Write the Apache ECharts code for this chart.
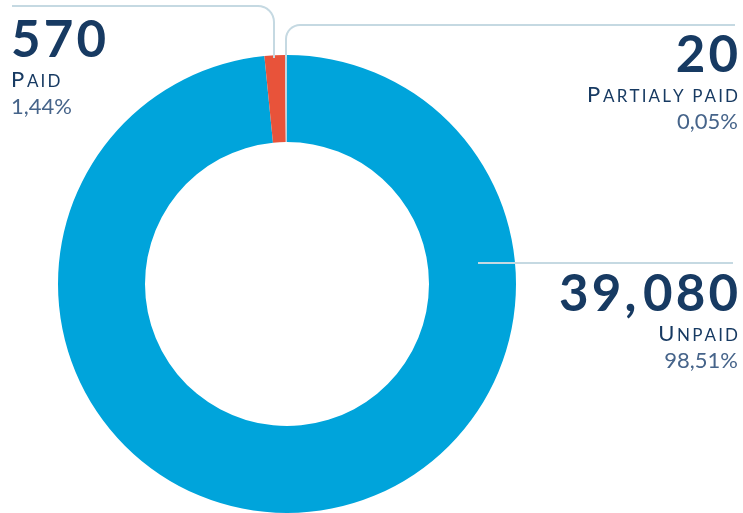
<!DOCTYPE html>
<html>
<head>
<meta charset="utf-8">
<script src="https://cdn.jsdelivr.net/npm/echarts@6/dist/echarts.min.js"></script>
<style>html,body{margin:0;padding:0;background:#fff;}#c{width:743px;height:513px;}</style>
</head>
<body>
<div id="c"></div>
<script>
var categories = ['Unpaid', 'Paid', 'Partialy paid'];
var values = [39080, 570, 20];
var colors = ['#00a4db', '#e8533a', '#bcd5e0'];

var total = values.reduce(function (a, b) { return a + b; }, 0);
function fmtNum(v) {
  var s = String(v).replace(/\B(?=(\d{3})+(?!\d))/g, ',');
  return s.split('').join('\u200a').replace(/,/g, ',\u200a');
}
function fmtPct(v) { return (v / total * 100).toFixed(2).replace('.', ',') + '%'; }
function smallCaps(s) {
  var up = s.toUpperCase();
  return '{cap|' + up.charAt(0) + '\u2009}{sc|' + up.slice(1).split('').join('\u2009') + '}';
}

var CX = 287, CY = 284, R0 = 142, R1 = 229;
var lineColor = '#c5d9e2';

// label placement (layout only)
var labelPos = [
  { x: 738, y: 270, align: 'right' },
  { x: 11, y: 16, align: 'left' },
  { x: 738, y: 31, align: 'right' }
];

function cornerLine(x0, y0, yH, xEnd, r) {
  var dir = xEnd > x0 ? 1 : -1;
  var pts = [[x0, y0], [x0, yH + r]];
  var cx = x0 + dir * r, cy = yH + r;
  for (var i = 1; i <= 8; i++) {
    var a = (i / 8) * Math.PI / 2;
    pts.push([cx - dir * r * Math.cos(a), cy - r * Math.sin(a)]);
  }
  pts.push([xEnd, yH]);
  return pts;
}

var chart = echarts.init(document.getElementById('c'), null, { renderer: 'canvas' });
chart.setOption({
  backgroundColor: '#ffffff',
  animation: false,
  series: [{
    type: 'pie',
    center: [CX, CY],
    radius: [R0, R1],
    startAngle: 90,
    clockwise: true,
    minAngle: 0.5,
    avoidLabelOverlap: false,
    data: categories.map(function (c, i) {
      return { name: c, value: values[i], itemStyle: { color: colors[i] } };
    }),
    label: {
      show: true,
      position: 'outside',
      formatter: function (p) {
        return '{num|' + fmtNum(p.value) + '}\n' + smallCaps(p.name) + '\n{pct|' + fmtPct(p.value) + '}';
      },
      rich: {
        num: { fontFamily: 'Lato', fontWeight: 'bold', fontSize: 51, color: '#173a62', lineHeight: 50 },
        cap: { fontFamily: 'Lato', fontSize: 22, color: '#173a62', lineHeight: 28 },
        sc: { fontFamily: 'Lato', fontSize: 17, color: '#173a62', lineHeight: 28, padding: [3, 0, 0, 0] },
        pct: { fontFamily: 'Lato', fontWeight: 'normal', fontSize: 22, color: '#46648a', lineHeight: 26 }
      }
    },
    labelLine: { show: false },
    labelLayout: function (p) {
      var l = labelPos[p.dataIndex];
      return { x: l.x, y: l.y, align: l.align, verticalAlign: 'top' };
    }
  }],
  graphic: [
    { type: 'polyline', z: 100, shape: { points: cornerLine(274, 58, 6, 12, 16) }, style: { stroke: lineColor, lineWidth: 2, fill: null } },
    { type: 'polyline', z: 100, shape: { points: cornerLine(286, 57, 25, 735, 14) }, style: { stroke: lineColor, lineWidth: 2, fill: null } },
    { type: 'polyline', z: 100, shape: { points: [[478, 263], [733, 263]] }, style: { stroke: lineColor, lineWidth: 2, fill: null } }
  ]
});
</script>
</body>
</html>
